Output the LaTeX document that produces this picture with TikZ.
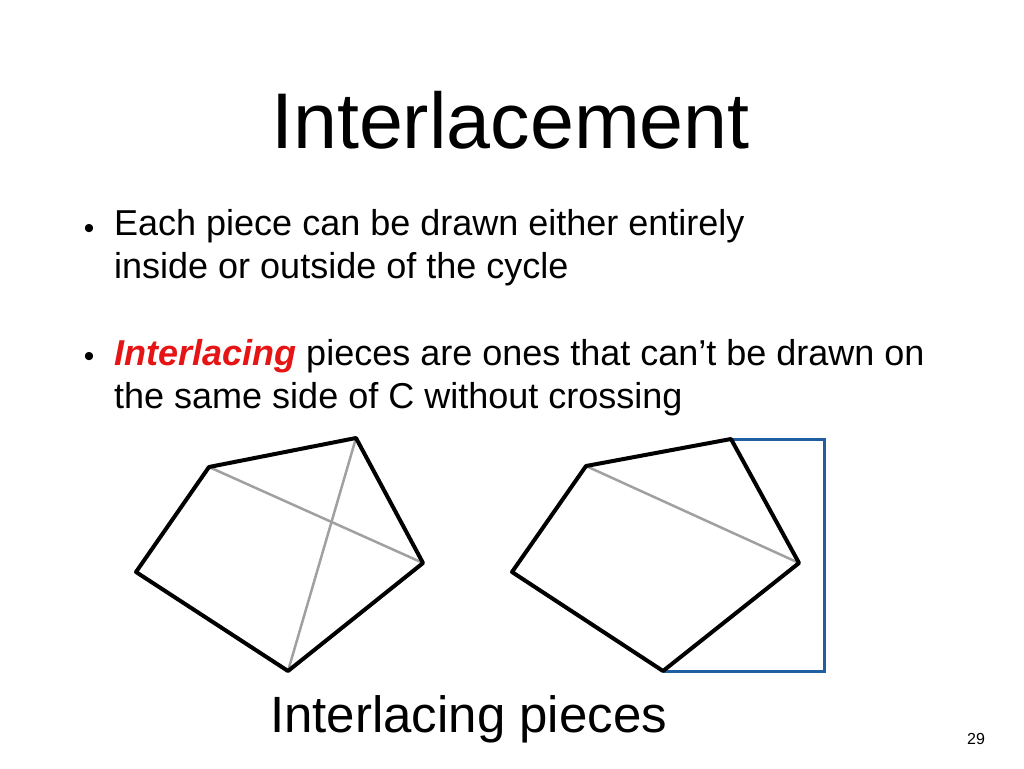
\documentclass[tikz,border=0pt]{standalone}
\usepackage{fontspec}
\setmainfont{Liberation Sans}
\definecolor{piecegray}{RGB}{160,160,160}
\definecolor{sideblue}{RGB}{31,94,160}
\definecolor{hotred}{RGB}{230,20,20}

\begin{document}
\begin{tikzpicture}[x=1pt,y=-1pt,
    cycleedge/.style={line width=4pt, line join=round},
    piece/.style={piecegray, line width=2.5pt},
    outerpiece/.style={sideblue, line width=3pt, line join=miter},
    bodytext/.style={anchor=base west, inner sep=0pt, font=\fontsize{36}{43}\selectfont},
    bulletdot/.style={anchor=base, inner sep=0pt, font=\fontsize{30}{36}\selectfont}]
    \useasboundingbox (0,0) rectangle (1024,768);

    \node[anchor=base west, inner sep=0pt, font=\fontsize{79}{95}\selectfont] (title) at (271,148) {Interlacement};

    % first bullet
    \node[bulletdot] (dotone) at (89,238) {•};
    \node[bodytext] (lineone) at (114,235) {Each piece can be drawn either entirely};
    \node[bodytext] (linetwo) at (114,278) {inside or outside of the cycle};

    % second bullet
    \node[bulletdot] (dottwo) at (89,366) {•};
    \node[bodytext] (linethree) at (114,365) {\textcolor{hotred}{\textbf{\textit{Interlacing}}} pieces are ones that can’t be drawn on};
    \node[bodytext] (linefour) at (114,408) {the same side of C without crossing};

    \begin{scope}
        \coordinate (a1) at (209,467);
        \coordinate (a2) at (356,438);
        \coordinate (a3) at (423,563);
        \coordinate (a4) at (288,671);
        \coordinate (a5) at (136,572);
        \draw[piece] (a1) -- (a3);
        \draw[piece] (a2) -- (a4);
        \draw[cycleedge] (a1) -- (a2) -- (a3) -- (a4) -- (a5) -- cycle;
    \end{scope}

    \begin{scope}
        \coordinate (b1) at (586,466);
        \coordinate (b2) at (731,439);
        \coordinate (b3) at (799,563);
        \coordinate (b4) at (663,671);
        \coordinate (b5) at (512,572);
        \coordinate (cornertop) at (824,439);
        \coordinate (cornerbot) at (824,671);
        \draw[piece] (b1) -- (b3);
        \draw[outerpiece] (b2) -- (cornertop) -- (cornerbot) -- (b4);
        \draw[cycleedge] (b1) -- (b2) -- (b3) -- (b4) -- (b5) -- cycle;
    \end{scope}

    \node[anchor=base west, inner sep=0pt, font=\fontsize{51}{61}\selectfont] (caption) at (270,732) {Interlacing pieces};
    \node[anchor=base west, inner sep=0pt, font=\fontsize{16}{19}\selectfont] (pagenum) at (967,744) {29};
\end{tikzpicture}
\end{document}
